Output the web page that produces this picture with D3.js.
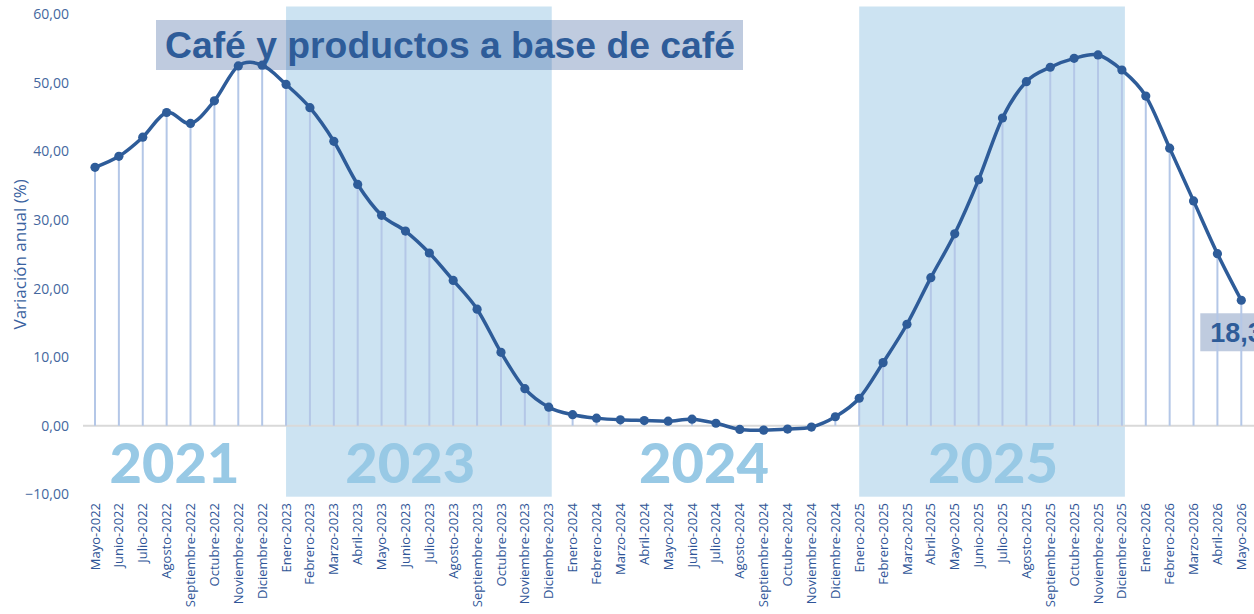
<!DOCTYPE html>
<html>
<head>
<meta charset="utf-8">
<script src="https://cdn.jsdelivr.net/npm/d3@7"></script>
<style>
  html, body { margin: 0; padding: 0; background: #fff; }
  svg { display: block; }
</style>
</head>
<body>
<div id="chart"></div>
<script>
// categories: one per month, Mayo-2022 .. Mayo-2026
const months = [
  'Mayo-2022', 'Junio-2022', 'Julio-2022', 'Agosto-2022', 'Septiembre-2022', 'Octubre-2022',
  'Noviembre-2022', 'Diciembre-2022',
  'Enero-2023', 'Febrero-2023', 'Marzo-2023', 'Abril-2023', 'Mayo-2023', 'Junio-2023',
  'Julio-2023', 'Agosto-2023', 'Septiembre-2023', 'Octubre-2023', 'Noviembre-2023', 'Diciembre-2023',
  'Enero-2024', 'Febrero-2024', 'Marzo-2024', 'Abril-2024', 'Mayo-2024', 'Junio-2024',
  'Julio-2024', 'Agosto-2024', 'Septiembre-2024', 'Octubre-2024', 'Noviembre-2024', 'Diciembre-2024',
  'Enero-2025', 'Febrero-2025', 'Marzo-2025', 'Abril-2025', 'Mayo-2025', 'Junio-2025',
  'Julio-2025', 'Agosto-2025', 'Septiembre-2025', 'Octubre-2025', 'Noviembre-2025', 'Diciembre-2025',
  'Enero-2026', 'Febrero-2026', 'Marzo-2026', 'Abril-2026', 'Mayo-2026',
];

// variación anual (%)
const values = [
  37.7, 39.3, 42.1, 45.7, 44.1, 47.4, 52.5, 52.6,
  49.8, 46.4, 41.5, 35.2, 30.7, 28.4, 25.2, 21.2, 17.0, 10.7, 5.4, 2.7,
  1.6, 1.1, 0.85, 0.75, 0.65, 0.95, 0.35, -0.55, -0.65, -0.5, -0.2, 1.3,
  4.0, 9.2, 14.8, 21.6, 28.0, 35.9, 44.9, 50.2, 52.3, 53.6, 54.1, 51.9,
  48.1, 40.5, 32.8, 25.1, 18.3,
];

const yTicks = [-10, 0, 10, 20, 30, 40, 50, 60];

// shaded year bands (first and last month of each)
const bandStarts = ['Enero-2023', 'Enero-2025'];
const bandEnds = ['Diciembre-2023', 'Diciembre-2025'];

// big year captions under the zero line
const yearLabels = ['2021', '2023', '2024', '2025'];
const yearLabelPos = [3.33, 13.2, 25.5, 37.6]; // in month steps from the first month

const chartTitle = 'Café y productos a base de café';
const yTitle = 'Variación anual (%)';

const width = 1254;
const height = 614;

const dark = '#2e5c99';
const tickColor = '#44679e';

const svg = d3.select('#chart').append('svg')
  .attr('width', width)
  .attr('height', height);

const x = d3.scalePoint()
  .domain(months)
  .range([95, 1241.3]);
const step = x.step();

const y = d3.scaleLinear()
  .domain([-10, 60])
  .range([494.2, 14.5]);

const fmt = v => d3.format('.2f')(v).replace('.', ',');

// bands
svg.selectAll('.band')
  .data(bandStarts.map((s, i) => [s, bandEnds[i]]))
  .enter().append('rect')
  .attr('class', 'band')
  .attr('x', d => x(d[0]))
  .attr('y', y(60) - 8)
  .attr('width', d => x(d[1]) - x(d[0]) + 3)
  .attr('height', y(-10) - y(60) + 10.5)
  .attr('fill', '#cce3f2');

// year captions
svg.selectAll('.year')
  .data(yearLabels)
  .enter().append('text')
  .attr('class', 'year')
  .attr('x', (d, i) => x(months[0]) + yearLabelPos[i] * step)
  .attr('y', 483)
  .attr('text-anchor', 'middle')
  .attr('fill', '#98c9e5')
  .style('font-family', 'Lato, "Open Sans", sans-serif')
  .style('font-weight', 900)
  .style('font-size', '56px')
  .text(d => d);

// zero line
svg.append('line')
  .attr('x1', 83).attr('x2', width)
  .attr('y1', y(0)).attr('y2', y(0))
  .attr('stroke', '#d9d9d9')
  .attr('stroke-width', 2);

// y axis labels
svg.selectAll('.ytick')
  .data(yTicks)
  .enter().append('text')
  .attr('class', 'ytick')
  .attr('x', 69)
  .attr('y', d => y(d))
  .attr('dy', '0.35em')
  .attr('text-anchor', 'end')
  .attr('fill', tickColor)
  .style('font-family', '"Open Sans", sans-serif')
  .style('font-size', '14px')
  .text(fmt);

svg.append('text')
  .attr('transform', `translate(20,${y(25)}) rotate(-90)`)
  .attr('dy', '0.35em')
  .attr('text-anchor', 'middle')
  .attr('fill', '#3a62a0')
  .style('font-family', '"Open Sans", sans-serif')
  .style('font-size', '17px')
  .text(yTitle);

// x axis labels
svg.selectAll('.xtick')
  .data(months)
  .enter().append('text')
  .attr('class', 'xtick')
  .attr('transform', d => `translate(${x(d)},503) rotate(-90)`)
  .attr('dy', '0.35em')
  .attr('text-anchor', 'end')
  .attr('fill', '#2f5597')
  .style('font-family', '"Open Sans", sans-serif')
  .style('font-size', '13px')
  .text(d => d);

// title box
const boxFill = 'rgba(44,84,150,0.3)';
svg.append('rect')
  .attr('x', 156).attr('y', 20)
  .attr('width', 587).attr('height', 50)
  .attr('fill', boxFill);

svg.append('text')
  .attr('x', 450)
  .attr('y', 58)
  .attr('text-anchor', 'middle')
  .attr('fill', dark)
  .attr('textLength', 570)
  .attr('lengthAdjust', 'spacingAndGlyphs')
  .style('font-family', '"Liberation Sans", Arial, sans-serif')
  .style('font-weight', 'bold')
  .style('font-size', '37px')
  .text(chartTitle);

// last value label box
const lastIdx = values.length - 1;
svg.append('rect')
  .attr('x', x(months[lastIdx]) - 41)
  .attr('y', y(values[lastIdx]) + 13)
  .attr('width', 80)
  .attr('height', 38)
  .attr('fill', boxFill);

// drop lines
svg.selectAll('.drop')
  .data(values)
  .enter().append('line')
  .attr('class', 'drop')
  .attr('x1', (d, i) => x(months[i]))
  .attr('x2', (d, i) => x(months[i]))
  .attr('y1', d => y(d))
  .attr('y2', y(0))
  .attr('stroke', '#b4c7e7')
  .attr('stroke-width', 2);

// line
const line = d3.line()
  .x((d, i) => x(months[i]))
  .y(d => y(d))
  .curve(d3.curveCatmullRom.alpha(0));

svg.append('path')
  .datum(values)
  .attr('d', line)
  .attr('fill', 'none')
  .attr('stroke', dark)
  .attr('stroke-width', 3.5)
  .attr('stroke-linejoin', 'round');

svg.selectAll('.dot')
  .data(values)
  .enter().append('circle')
  .attr('class', 'dot')
  .attr('cx', (d, i) => x(months[i]))
  .attr('cy', d => y(d))
  .attr('r', 4.6)
  .attr('fill', dark);

// value label
svg.append('text')
  .attr('x', x(months[lastIdx]) - 31)
  .attr('y', y(values[lastIdx]) + 42)
  .attr('fill', dark)
  .style('font-family', '"Liberation Sans", Arial, sans-serif')
  .style('font-weight', 'bold')
  .style('font-size', '27px')
  .text(d3.format('.1f')(values[lastIdx]).replace('.', ','));
</script>
</body>
</html>
